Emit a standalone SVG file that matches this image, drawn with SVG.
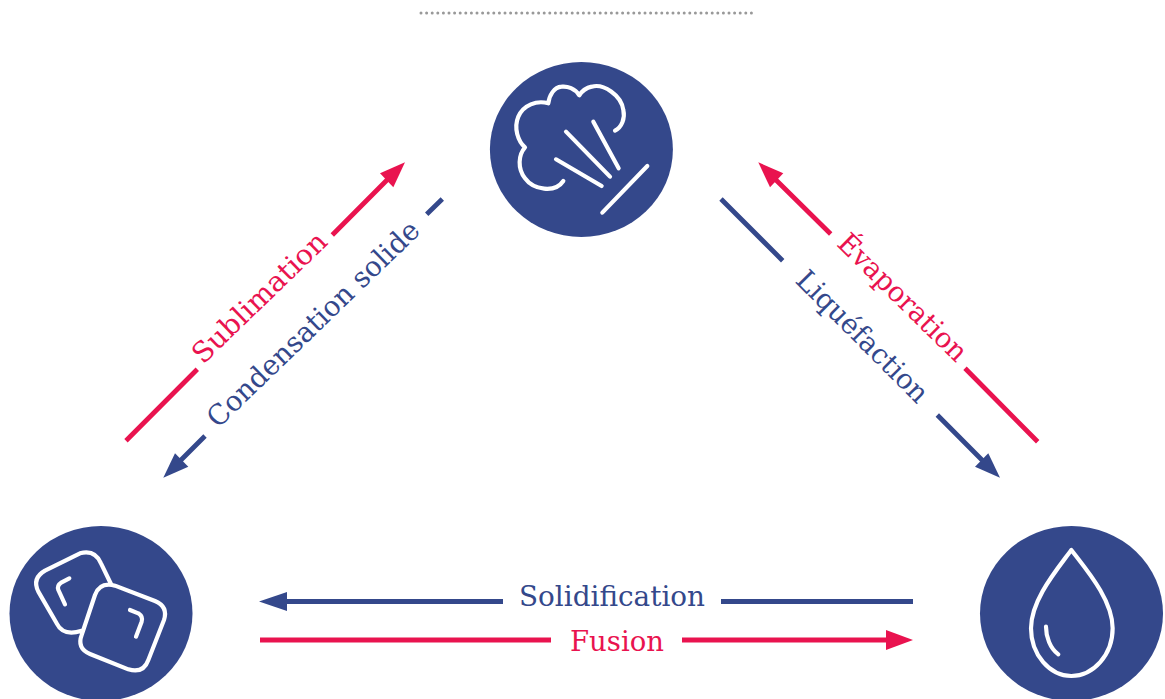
<svg xmlns="http://www.w3.org/2000/svg" width="1165" height="699" viewBox="0 0 1165 699">
<style>
.bg{fill:#34488b}
.ic{fill:none;stroke:#fff;stroke-width:12.5;stroke-linecap:round;stroke-linejoin:round}
.b{stroke:#34488b;fill:none;stroke-width:4.8}
.r{stroke:#e9134f;fill:none;stroke-width:4.8}
.hb{fill:#34488b}
.hr{fill:#e9134f}
text{font-family:"DejaVu Serif","Liberation Serif",serif;font-size:28px}
.tb{fill:#34488b}
.tr{fill:#e9134f}
</style>
<rect width="1165" height="699" fill="#fff"/>
<line id="separator" x1="421" y1="13" x2="755" y2="13" stroke="#999" stroke-width="3" stroke-linecap="round" stroke-dasharray="0 5.6"/>
<g id="gas">
<ellipse class="bg" cx="581.4" cy="149.5" rx="91.5" ry="87.5"/>
<path class="ic" transform="translate(480,50) scale(.3333)" d="M405 242C425 232 436 205 430 180C424 135 370 100 335 110C320 113 305 125 298 136C285 115 262 108 245 110C222 112 208 135 205 160C170 150 130 165 115 200C100 235 115 275 135 292C115 315 112 355 135 385C160 420 225 430 250 393M258 245L390 380M340 215L416 355M228 328L365 408M367 488L502 348"/>
</g>
<g id="solid">
<ellipse class="bg" cx="101" cy="613.5" rx="91.5" ry="87.5"/>
<path class="ic" transform="translate(0,520) scale(.3333)" d="M333 192L303 130Q285 88 240 100L135 152Q95 175 115 215L170 310Q190 350 245 332M345 197L465 243Q505 260 492 300L445 420Q430 462 385 448L270 402Q230 385 245 345L285 225Q300 185 345 197ZM208 175L185 187Q170 197 175 210L195 253M390 270L415 280Q430 290 425 305L408 350"/>
</g>
<g id="liquid">
<ellipse class="bg" cx="1071.5" cy="613.5" rx="91.5" ry="87.5"/>
<path class="ic" transform="translate(970,520) scale(.3333)" d="M304 90C260 150 183 240 183 325C183 405 240 468 304 468C370 468 428 405 428 325C428 240 350 150 304 90ZM228 320C228 350 240 385 265 403"/>
</g>
<g id="connectors">
<path class="r" d="M126 440.7L197.3 369.3M332.3 235L388 179"/>
<polygon class="hr" points="405,162.3 380,173.3 393.3,187.3"/>
<path class="b" d="M442.3 199L426.7 214.3M205 436L180 461"/>
<polygon class="hb" points="163.3,477.7 175,453.3 188.3,466.7"/>
<path class="r" d="M830.7 234L775 179M965 368.3L1037.7 441.7"/>
<polygon class="hr" points="758.3,162.3 783.3,173.3 770,187.3"/>
<path class="b" d="M721 199L782.7 260.7M937.3 415L983 461"/>
<polygon class="hb" points="1000,477.7 975,466.7 988.3,453.3"/>
<path class="b" d="M913 601.5H721M503 601.5H277"/>
<polygon class="hb" points="259,601.5 287,592 287,611"/>
<path class="r" d="M260 640H551M682 640H895"/>
<polygon class="hr" points="913,640 886,630 886,650"/>
</g>
<g id="labels">
<text class="tb" x="519" y="606" textLength="186" lengthAdjust="spacingAndGlyphs">Solidification</text>
<text class="tr" x="570" y="651" textLength="94" lengthAdjust="spacingAndGlyphs">Fusion</text>
<text class="tr" transform="translate(203,365) rotate(-44)" textLength="175" lengthAdjust="spacingAndGlyphs">Sublimation</text>
<text class="tb" transform="translate(218,429) rotate(-44)" textLength="283" lengthAdjust="spacingAndGlyphs">Condensation solide</text>
<text class="tr" transform="translate(835.7,245) rotate(44.5)" textLength="169" lengthAdjust="spacingAndGlyphs">Évaporation</text>
<text class="tb" transform="translate(794.3,281.7) rotate(45)" textLength="174" lengthAdjust="spacingAndGlyphs">Liquéfaction</text>
</g>
</svg>
